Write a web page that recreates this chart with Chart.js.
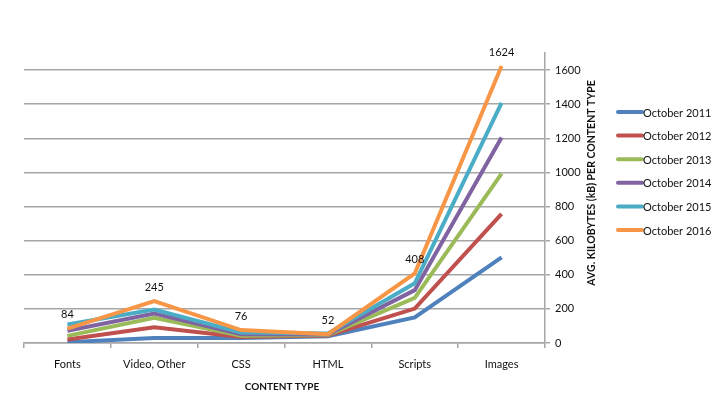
<!DOCTYPE html>
<html>
<head>
<meta charset="utf-8">
<script src="https://cdn.jsdelivr.net/npm/chart.js@4/dist/chart.umd.min.js"></script>
<style>
  html, body { margin:0; padding:0; background:#fff; }
  #wrap { width:721px; height:396px; }
</style>
</head>
<body>
<div id="wrap"><canvas id="kbChart" width="721" height="396"></canvas></div>
<script>
// --- Data ---
const categories = ['Fonts', 'Video, Other', 'CSS', 'HTML', 'Scripts', 'Images'];
const seriesNames = ['October 2011', 'October 2012', 'October 2013', 'October 2014', 'October 2015', 'October 2016'];
const oct2011 = [5, 30, 30, 40, 150, 502];
const oct2012 = [20, 92, 35, 44, 202, 757];
const oct2013 = [42, 148, 42, 47, 265, 993];
const oct2014 = [72, 172, 52, 50, 310, 1205];
const oct2015 = [108, 196, 62, 56, 350, 1408];
const oct2016 = [84, 245, 76, 52, 408, 1624];
const yTicks = [0, 200, 400, 600, 800, 1000, 1200, 1400, 1600];
const colors = ['#4F81BD', '#C0504D', '#9BBB59', '#8064A2', '#4BACC6', '#F79646'];

const allSeries = [oct2011, oct2012, oct2013, oct2014, oct2015, oct2016];
const FONT = 'Lato, "Open Sans", sans-serif';

// --- plugin: labels on 2016 series, legend and axis titles ---
const extras = {
  id: 'extras',
  afterDatasetsDraw(chart){
    const c = chart.ctx;
    c.save();
    // value labels for last series
    const meta = chart.getDatasetMeta(5);
    c.fillStyle = '#111';
    c.font = '11px ' + FONT;
    c.textAlign = 'center';
    c.textBaseline = 'middle';
    meta.data.forEach((pt, i)=>{
      c.fillText(String(oct2016[i]), pt.x, pt.y - 14);
    });

    // legend
    c.textAlign = 'left';
    c.font = '11px ' + FONT;
    chart.data.datasets.forEach((ds, i)=>{
      const y = 112 + i * 23.6;
      c.strokeStyle = ds.borderColor;
      c.lineWidth = 4;
      c.lineCap = 'round';
      c.beginPath();
      c.moveTo(618, y);
      c.lineTo(642, y);
      c.stroke();
      c.fillStyle = '#111';
      c.fillText(ds.label, 643, y + 1);
    });

    // axis titles
    c.font = 'bold 10px ' + FONT;
    c.textAlign = 'center';
    c.fillStyle = '#111';
    c.fillText('CONTENT TYPE', 282, 387);
    c.font = 'bold 10.5px ' + FONT;
    c.translate(592, 183);
    c.rotate(-Math.PI / 2);
    c.fillText('AVG. KILOBYTES (kB) PER CONTENT TYPE', 0, 0);
    c.restore();
  }
};

const ctx = document.getElementById('kbChart').getContext('2d');
const chart = new Chart(ctx, {
  type: 'line',
  data: {
    labels: categories,
    datasets: seriesNames.map((name, i)=>({
      label: name,
      data: allSeries[i],
      borderColor: colors[i],
      backgroundColor: colors[i],
      borderWidth: 4,
      pointRadius: 0,
      tension: 0,
      order: 5 - i
    }))
  },
  options: {
    responsive: false,
    animation: false,
    layout: { padding: { left: 24, top: 53, right: 0, bottom: 0 } },
    plugins: {
      legend: { display: false },
      tooltip: { enabled: false }
    },
    scales: {
      x: {
        offset: true,
        grid: {
          offset: true,
          drawOnChartArea: false,
          drawTicks: true,
          tickLength: 5,
          color: '#a6a6a6',
          lineWidth: 1.5
        },
        border: { color: '#a6a6a6', width: 1.5 },
        ticks: {
          color: '#111',
          font: { family: FONT, size: 11 },
          padding: 10,
          maxRotation: 0
        },
        afterFit(scale){ scale.height = 53; }
      },
      y: {
        position: 'right',
        min: 0,
        max: 1700,
        afterBuildTicks(scale){
          scale.ticks = yTicks.map(v=>({ value: v }));
        },
        grid: {
          color: '#a6a6a6',
          lineWidth: 1.5,
          tickLength: 5
        },
        border: { color: '#a6a6a6', width: 1.5 },
        ticks: {
          color: '#111',
          font: { family: FONT, size: 11 },
          padding: 5,
          callback: v => String(v)
        },
        afterFit(scale){ scale.width = 176; }
      }
    }
  },
  plugins: [extras]
});
</script>
</body>
</html>
